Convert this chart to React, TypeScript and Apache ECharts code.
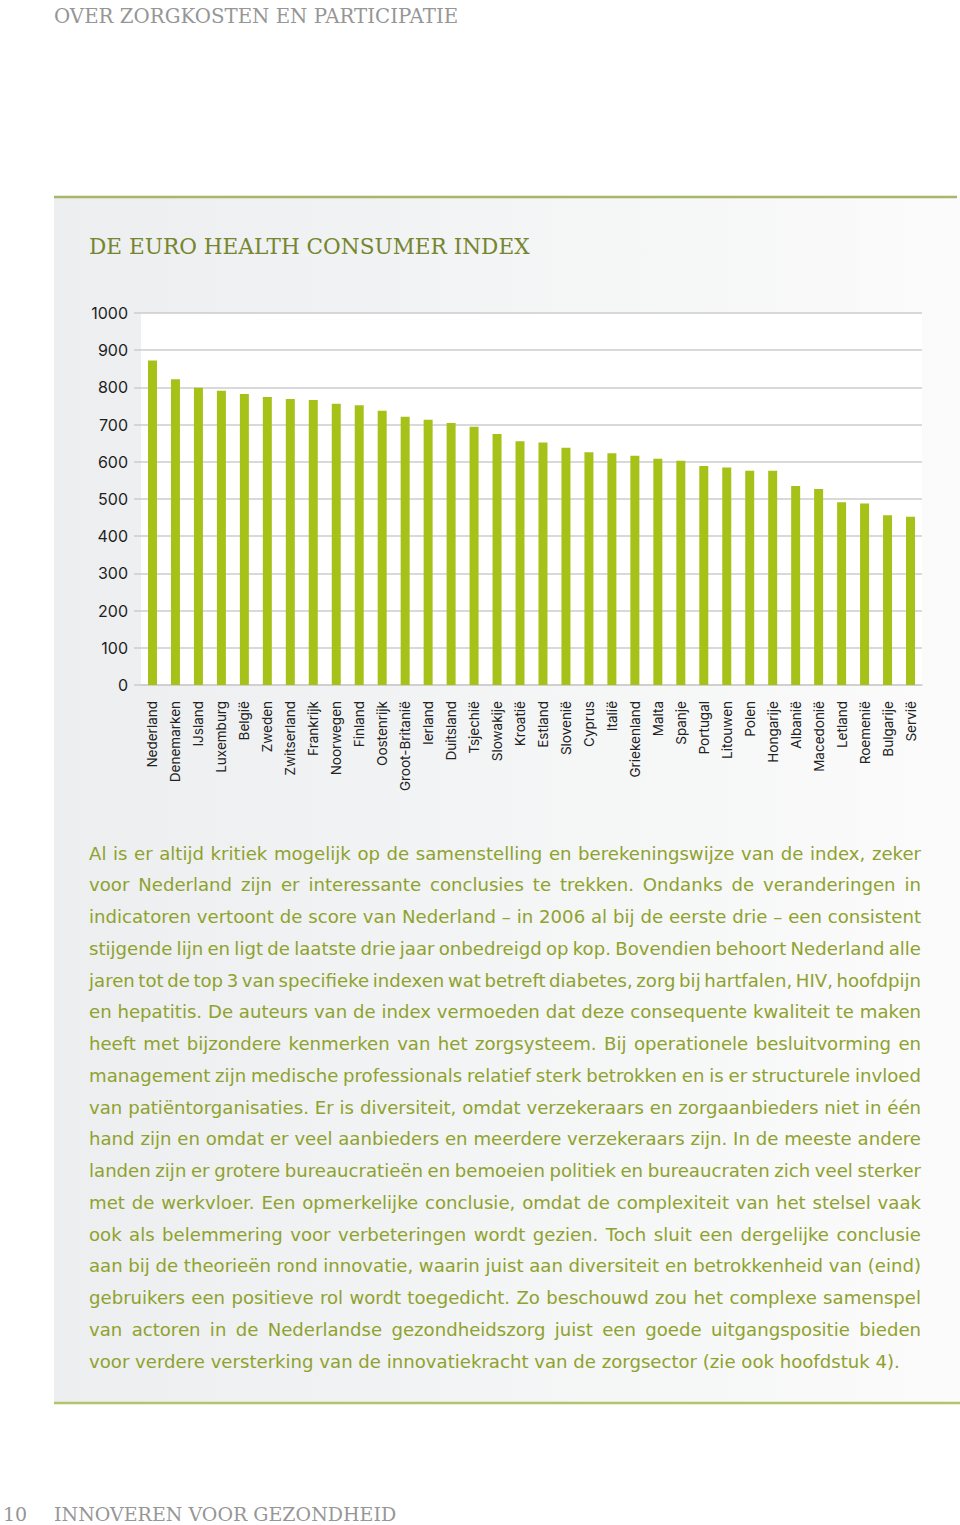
import React, { useEffect, useRef } from "react";
import * as echarts from "echarts";

const categories = [
  "Nederland", "Denemarken", "IJsland", "Luxemburg", "België", "Zweden", "Zwitserland",
  "Frankrijk", "Noorwegen", "Finland", "Oostenrijk", "Groot-Britanië", "Ierland", "Duitsland",
  "Tsjechië", "Slowakije", "Kroatië", "Estland", "Slovenië", "Cyprus", "Italië", "Griekenland",
  "Malta", "Spanje", "Portugal", "Litouwen", "Polen", "Hongarije", "Albanië", "Macedonië",
  "Letland", "Roemenië", "Bulgarije", "Servië",
];

const scores = [
  872, 822, 799, 791, 782, 774, 769, 766, 756, 752, 737, 721, 713, 704, 694, 675, 655, 652,
  638, 626, 623, 616, 608, 603, 589, 585, 576, 576, 535, 527, 491, 488, 456, 452,
];

const headerText = "OVER ZORGKOSTEN EN PARTICIPATIE";
const titleText = "DE EURO HEALTH CONSUMER INDEX";
const pageNumber = "10";
const footerText = "INNOVEREN VOOR GEZONDHEID";

const paragraphLines = [
  "Al is er altijd kritiek mogelijk op de samenstelling en berekeningswijze van de index, zeker",
  "voor Nederland zijn er interessante conclusies te trekken. Ondanks de veranderingen in",
  "indicatoren vertoont de score van Nederland – in 2006 al bij de eerste drie – een consistent",
  "stijgende lijn en ligt de laatste drie jaar onbedreigd op kop. Bovendien behoort Nederland alle",
  "jaren tot de top 3 van specifieke indexen wat betreft diabetes, zorg bij hartfalen, HIV, hoofdpijn",
  "en hepatitis. De auteurs van de index vermoeden dat deze consequente kwaliteit te maken",
  "heeft met bijzondere kenmerken van het zorgsysteem. Bij operationele besluitvorming en",
  "management zijn medische professionals relatief sterk betrokken en is er structurele invloed",
  "van patiëntorganisaties. Er is diversiteit, omdat verzekeraars en zorgaanbieders niet in één",
  "hand zijn en omdat er veel aanbieders en meerdere verzekeraars zijn. In de meeste andere",
  "landen zijn er grotere bureaucratieën en bemoeien politiek en bureaucraten zich veel sterker",
  "met de werkvloer. Een opmerkelijke conclusie, omdat de complexiteit van het stelsel vaak",
  "ook als belemmering voor verbeteringen wordt gezien. Toch sluit een dergelijke conclusie",
  "aan bij de theorieën rond innovatie, waarin juist aan diversiteit en betrokkenheid van (eind)",
  "gebruikers een positieve rol wordt toegedicht. Zo beschouwd zou het complexe samenspel",
  "van actoren in de Nederlandse gezondheidszorg juist een goede uitgangspositie bieden",
  "voor verdere versterking van de innovatiekracht van de zorgsector (zie ook hoofdstuk 4).",
];

const SANS = "Inter, 'Noto Sans', sans-serif";
const BODY = "'DejaVu Sans', 'Noto Sans', sans-serif";
const SLAB = "'DejaVu Serif', serif";
const GREEN_BAR = "#a6c219";
const OLIVE = "#76852f";
const TEXT_GREEN = "#8fa22e";
const GRAY = "#969696";
const GRID_GRAY = "#cdcdcd";

function buildParagraph(): any[] {
  const canvas = document.createElement("canvas");
  const ctx = canvas.getContext("2d")!;
  const left = 89;
  const right = 921;
  const avail = right - left;
  ctx.font = `16px ${BODY}`;
  const lastLine = paragraphLines[paragraphLines.length - 1];
  const lastW = ctx.measureText(lastLine).width;
  let fitMax = Infinity;
  paragraphLines.slice(0, -1).forEach((l) => {
    const n = l.split(" ").length - 1;
    const w = ctx.measureText(l).width;
    const sp = ctx.measureText(" ").width;
    const minW = w - n * sp * 0.4;
    fitMax = Math.min(fitMax, (avail / minW) * 16);
  });
  const size = Math.min((811 / lastW) * 16, fitMax);
  ctx.font = `${size}px ${BODY}`;
  const spaceW = ctx.measureText(" ").width;
  const els: any[] = [];
  const y0 = 853;
  const lh = 31.75;
  paragraphLines.forEach((line, i) => {
    const words = line.split(" ");
    const widths = words.map((w) => ctx.measureText(w).width);
    const total = widths.reduce((a, b) => a + b, 0);
    const last = i === paragraphLines.length - 1;
    const gap = last || words.length < 2 ? spaceW : (avail - total) / (words.length - 1);
    let x = left;
    words.forEach((w, j) => {
      els.push({
        type: "text",
        x,
        y: y0 + i * lh,
        style: {
          text: w,
          font: `${size}px ${BODY}`,
          fill: TEXT_GREEN,
          textVerticalAlign: "middle",
        },
      });
      x += widths[j] + gap;
    });
  });
  return els;
}

export default function App() {
  const ref = useRef<HTMLDivElement>(null);

  useEffect(() => {
    if (!ref.current) return;
    const chart = echarts.init(ref.current, undefined, { renderer: "svg" });

    const decor: any[] = [
      {
        type: "rect",
        z: -10,
        shape: { x: 54, y: 197, width: 906, height: 1206 },
        style: {
          fill: {
            type: "linear",
            x: 0, y: 0, x2: 1, y2: 0,
            colorStops: [
              { offset: 0, color: "#eceeef" },
              { offset: 1, color: "#fbfbfb" },
            ],
          },
        },
      },
      {
        type: "line",
        z: -9,
        shape: { x1: 54, y1: 197, x2: 957, y2: 197 },
        style: { stroke: "#a9b567", lineWidth: 2.5 },
      },
      {
        type: "line",
        z: -9,
        shape: { x1: 54, y1: 1403, x2: 960, y2: 1403 },
        style: { stroke: "#b3c46a", lineWidth: 2.5 },
      },
      {
        type: "text",
        x: 54,
        y: 16,
        style: { text: headerText, font: `19.8px ${SLAB}`, fill: GRAY, textVerticalAlign: "middle" },
      },
      {
        type: "text",
        x: 89,
        y: 246,
        style: { text: titleText, font: `21.6px ${SLAB}`, fill: OLIVE, textVerticalAlign: "middle" },
      },
      {
        type: "text",
        x: 3,
        y: 1514,
        style: { text: pageNumber, font: `19px ${SLAB}`, fill: GRAY, textVerticalAlign: "middle" },
      },
      {
        type: "text",
        x: 54,
        y: 1514,
        style: { text: footerText, font: `19px ${SLAB}`, fill: GRAY, textVerticalAlign: "middle" },
      },
    ];

    chart.setOption({
      animation: false,
      backgroundColor: "#ffffff",
      grid: {
        left: 141,
        right: 38,
        top: 313,
        bottom: 840,
        show: true,
        backgroundColor: "#ffffff",
        borderWidth: 0,
      },
      xAxis: {
        type: "category",
        data: categories,
        axisLine: { show: true, lineStyle: { color: GRID_GRAY, width: 1.5 } },
        axisTick: { show: false },
        axisLabel: {
          interval: 0,
          rotate: 90,
          margin: 16,
          fontSize: 13.5,
          fontFamily: SANS,
          color: "#222222",
        },
      },
      yAxis: {
        type: "value",
        min: 0,
        max: 1000,
        interval: 100,
        axisLine: { show: false },
        axisTick: { show: true, length: 7, lineStyle: { color: GRID_GRAY, width: 1.5 } },
        splitLine: { show: true, lineStyle: { color: GRID_GRAY, width: 1.5 } },
        axisLabel: {
          margin: 13,
          fontSize: 16,
          fontFamily: SANS,
          color: "#1e1e1e",
          formatter: (v: number) => String(v),
        },
      },
      series: [
        {
          type: "bar",
          data: scores,
          barWidth: 9,
          itemStyle: { color: GREEN_BAR },
        },
      ],
      graphic: { elements: [...decor, ...buildParagraph()] },
    });

    return () => chart.dispose();
  }, []);

  return (
    <div
      ref={ref}
      style={{ position: "absolute", left: 0, top: 0, width: 960, height: 1525 }}
    />
  );
}
